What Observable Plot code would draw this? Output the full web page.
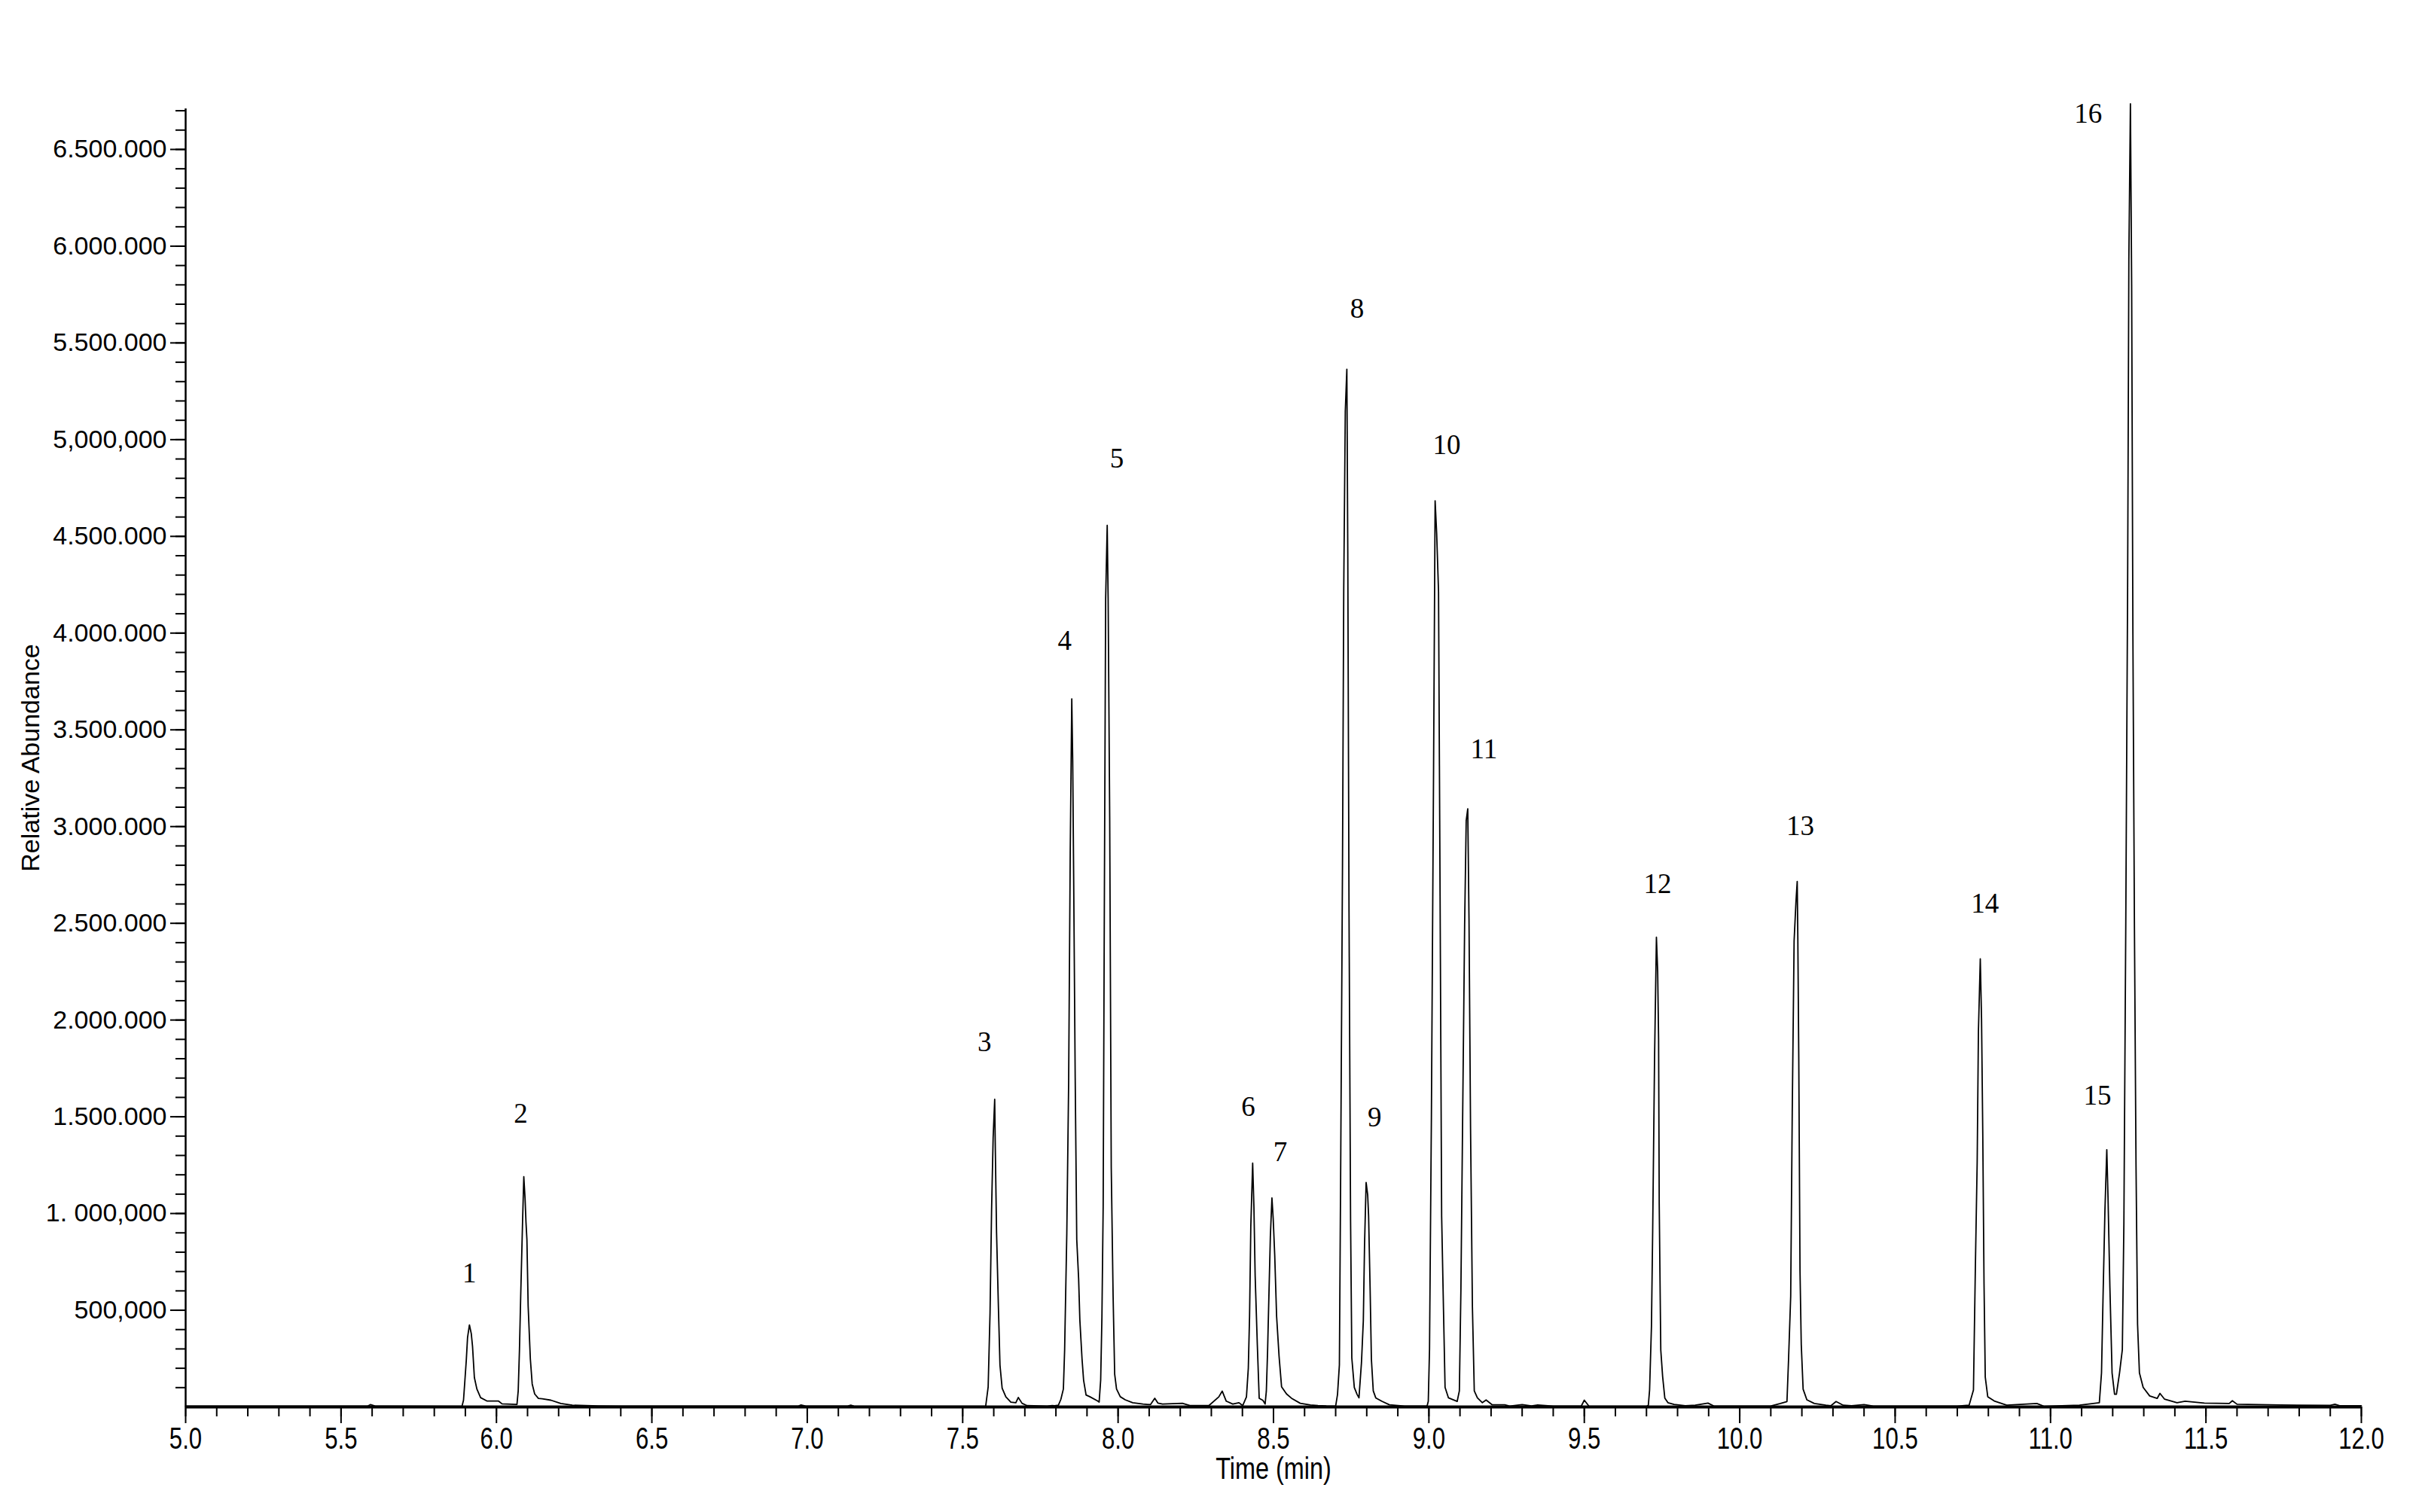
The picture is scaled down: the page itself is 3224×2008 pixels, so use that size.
<!DOCTYPE html>
<html>
<head>
<meta charset="utf-8">
<script src="https://cdn.jsdelivr.net/npm/d3@7"></script>
<script src="https://cdn.jsdelivr.net/npm/@observablehq/plot@0.6"></script>
<style>
  html, body { margin: 0; padding: 0; background: #fff; }
  #chart svg { display: block; }
</style>
</head>
<body>
<div id="chart"></div>
<script>
// ---- Data (time in min, abundance in counts) ----
const baselineStart = [[5.0,4000],[5.3,4000],[5.585,4000],[5.595,12000],[5.61,4000],[5.885,3000]];
const peaks1and2 = [[5.889,3000],[5.894,35000],[5.898,126000],[5.903,243000],[5.907,359000],[5.913,424000],[5.919,379000],[5.923,314000],[5.929,152000],[5.937,93000],[5.949,48000],[5.969,31000],[6.006,31000],[6.018,16000],[6.066,13000],[6.070,83000],[6.074,294000],[6.078,573000],[6.084,956000],[6.088,1190000],[6.092,1079000],[6.095,955000],[6.098,865000],[6.102,521000],[6.109,249000],[6.115,119000],[6.123,67000],[6.135,44000],[6.147,42000],[6.175,35000],[6.207,18000],[6.244,9000],[6.328,5000]];
const baselineMid = [[6.40,4000],[6.97,4000],[6.98,10000],[6.995,4000],[7.13,4000],[7.14,9000],[7.15,4000],[7.57,3000]];
const peak3 = [[7.574,3000],[7.582,104000],[7.588,484000],[7.593,1020000],[7.598,1392000],[7.603,1590000],[7.605,1333000],[7.609,901000],[7.615,514000],[7.620,216000],[7.627,97000],[7.639,52000],[7.655,25000],[7.671,22000],[7.679,49000],[7.691,19000],[7.707,7000],[7.772,4000],[7.788,7000]];
const peaks4and5 = [[7.796,6000],[7.808,9000],[7.816,40000],[7.824,93000],[7.828,294000],[7.835,897000],[7.841,1686000],[7.846,2862000],[7.851,3660000],[7.854,3340000],[7.857,2754000],[7.862,1702000],[7.867,866000],[7.873,665000],[7.877,449000],[7.884,248000],[7.889,139000],[7.897,62000],[7.909,53000],[7.934,31000],[7.939,25000],[7.944,139000],[7.948,464000],[7.952,1036000],[7.956,2676000],[7.960,4177000],[7.965,4557000],[7.968,4177000],[7.973,3048000],[7.978,1238000],[7.984,572000],[7.989,170000],[7.995,93000],[8.007,53000],[8.023,37000],[8.047,22000],[8.080,15000],[8.104,12000],[8.118,45000],[8.128,20000],[8.143,15000]];
const peaks6and7 = [[8.207,19000],[8.231,7000],[8.292,7000],[8.324,52000],[8.335,82000],[8.348,30000],[8.369,15000],[8.389,22000],[8.401,7000],[8.413,52000],[8.419,201000],[8.423,469000],[8.427,931000],[8.433,1260000],[8.437,1035000],[8.441,677000],[8.448,320000],[8.454,45000],[8.466,34000],[8.473,15000],[8.477,82000],[8.481,290000],[8.485,558000],[8.490,886000],[8.495,1080000],[8.499,975000],[8.504,782000],[8.510,469000],[8.518,261000],[8.526,104000],[8.542,67000],[8.558,45000],[8.586,19000],[8.619,10000],[8.643,7000],[8.67,5000]];
const peaks8to11 = [[8.700,4000],[8.706,65000],[8.712,217000],[8.716,1186000],[8.722,2796000],[8.726,4225000],[8.731,5147000],[8.736,5364000],[8.739,4424000],[8.743,2561000],[8.748,962000],[8.752,253000],[8.760,101000],[8.769,65000],[8.775,47000],[8.783,228000],[8.789,445000],[8.793,843000],[8.798,1160000],[8.803,1096000],[8.806,987000],[8.811,600000],[8.815,246000],[8.821,83000],[8.829,47000],[8.849,29000],[8.873,11000],[8.922,4000],[8.994,4000],[8.998,29000],[9.002,300000],[9.008,1494000],[9.015,3291000],[9.020,4684000],[9.025,4514000],[9.031,4214000],[9.036,2640000],[9.041,987000],[9.047,499000],[9.052,101000],[9.063,47000],[9.091,29000],[9.098,83000],[9.103,608000],[9.109,1566000],[9.115,2496000],[9.120,3031000],[9.125,3092000],[9.129,2525000],[9.134,1440000],[9.140,517000],[9.146,83000],[9.156,47000],[9.172,22000],[9.184,36000],[9.204,11000],[9.244,11000],[9.260,4000]];
const baselineLate = [[9.30,12000],[9.33,5000],[9.35,10000],[9.40,4000],[9.49,4000],[9.50,35000],[9.515,4000],[9.70,3000]];
const peaks12and13 = [[9.706,9000],[9.710,87000],[9.716,415000],[9.720,914000],[9.726,1800000],[9.732,2428000],[9.736,2252000],[9.739,1901000],[9.741,1052000],[9.746,295000],[9.752,157000],[9.759,46000],[9.769,22000],[9.789,13000],[9.825,6000],[9.857,9000],[9.898,20000],[9.918,4000],[10.099,4000],[10.131,18000],[10.152,28000],[10.157,240000],[10.164,572000],[10.169,1523000],[10.175,2409000],[10.181,2612000],[10.185,2716000],[10.187,2418000],[10.190,1800000],[10.194,702000],[10.198,323000],[10.204,92000],[10.216,37000],[10.240,18000],[10.277,9000],[10.293,6000],[10.310,28000],[10.333,9000],[10.36,6000],[10.40,12000],[10.43,4000],[10.70,4000]];
const peaks14to16 = [[10.738,9000],[10.752,88000],[10.758,706000],[10.764,1266000],[10.768,1941000],[10.774,2316000],[10.778,2007000],[10.782,1412000],[10.786,640000],[10.790,154000],[10.798,53000],[10.819,31000],[10.859,9000],[10.956,18000],[10.980,3000],[11.093,9000],[11.157,22000],[11.164,176000],[11.169,573000],[11.175,1015000],[11.181,1330000],[11.185,1081000],[11.191,618000],[11.198,176000],[11.206,66000],[11.212,66000],[11.222,176000],[11.231,296000],[11.236,948000],[11.242,2470000],[11.248,4235000],[11.252,5933000],[11.257,6736000],[11.261,5801000],[11.265,3992000],[11.270,2470000],[11.275,1257000],[11.280,428000],[11.286,176000],[11.298,101000],[11.319,57000],[11.343,44000],[11.352,70000],[11.367,40000],[11.407,22000]];
const tailEnd = [[11.433,30000],[11.495,20000],[11.575,18000],[11.585,32000],[11.60,14000],[11.74,10000],[11.90,8000],[11.915,14000],[11.93,6000],[12.0,6000]];

// peak labels
const peakNames  = ["1","2","3","4","5","6","7","8","9","10","11","12","13","14","15","16"];
const peakLabelT = [5.913,6.078,7.570,7.828,7.996,8.419,8.522,8.769,8.825,9.057,9.177,9.736,10.195,10.789,11.151,11.121];
const peakLabelV = [690000,1517000,1884000,3960000,4900000,1549000,1318000,5676000,1494000,4973000,3400000,2704000,3004000,2602000,1610000,6683000];

// axis ticks
const yMajorTicks  = [500000,1000000,1500000,2000000,2500000,3000000,3500000,4000000,4500000,5000000,5500000,6000000,6500000];
const yMajorLabels = ["500,000","1. 000,000","1.500.000","2.000.000","2.500.000","3.000.000","3.500.000","4.000.000","4.500.000","5,000,000","5.500.000","6.000.000","6.500.000"];
const yMinorTicks  = d3.range(1, 68).map(k => k * 100000);
const xMajorTicks  = [5.0,5.5,6.0,6.5,7.0,7.5,8.0,8.5,9.0,9.5,10.0,10.5,11.0,11.5,12.0];
const xMinorTicks  = d3.range(50, 121).map(k => k / 10);
const xTitle = "Time (min)";
const yTitle = "Relative Abundance";

// ---- Build ----
const trace = [].concat(baselineStart, peaks1and2, baselineMid, peak3, peaks4and5, peaks6and7, peaks8to11, baselineLate, peaks12and13, peaks14to16, tailEnd);
const yLabelMap = new Map(yMajorTicks.map((v, i) => [v, yMajorLabels[i]]));
const labels = peakNames.map((n, i) => ({name: n, t: peakLabelT[i], v: peakLabelV[i]}));

const sans = "'Liberation Sans', Arial, sans-serif";
const serif = "'Liberation Serif', 'Times New Roman', serif";

const chart = Plot.plot({
  width: 3224,
  height: 2008,
  marginLeft: 246,
  marginRight: 89,
  marginTop: 144,
  marginBottom: 140,
  x: {domain: [5, 12]},
  y: {domain: [0, 6710000]},
  style: {background: "#fff", color: "#000", fontFamily: sans},
  marks: [
    Plot.axisY(yMinorTicks, {tickSize: 13, strokeWidth: 2, tickFormat: () => "", label: null}),
    Plot.axisY(yMajorTicks, {tickSize: 20, tickPadding: 5, strokeWidth: 2, tickFormat: d => yLabelMap.get(d), fontSize: 34, fontFamily: sans, label: null}),
    Plot.axisX(xMinorTicks, {tickSize: 13, strokeWidth: 2, tickFormat: () => "", label: null}),
    Plot.axisX(xMajorTicks, {tickSize: 22, tickPadding: 4, strokeWidth: 2, tickFormat: d => d.toFixed(1), fontSize: 41, fontFamily: sans, label: null}),
    Plot.ruleX([5], {y1: 0, y2: 6710000, stroke: "#000", strokeWidth: 2.5}),
    Plot.line(trace, {x: d => d[0], y: d => d[1], stroke: "#000", strokeWidth: 1.8, clip: false}),
    Plot.ruleY([0], {stroke: "#000", strokeWidth: 4}),
    Plot.text(labels, {x: "t", y: "v", text: "name", fontFamily: serif, fontSize: 37, fill: "#000", textAnchor: "middle", lineAnchor: "middle"}),
    Plot.text([yTitle], {frameAnchor: "left", dx: -205, rotate: -90, textAnchor: "middle", lineAnchor: "middle", fontSize: 34, fontFamily: sans, fill: "#000"}),
    Plot.text([xTitle], {frameAnchor: "bottom", dy: 83, textAnchor: "middle", fontSize: 40, fontFamily: sans, fill: "#000", lineAnchor: "middle"})
  ]
});
document.getElementById("chart").appendChild(chart);

// condense the x-axis texts (the reference uses a narrow typeface)
const xTickTexts = new Set(xMajorTicks.map(d => d.toFixed(1)));
chart.querySelectorAll("text").forEach(el => {
  const s = el.textContent.trim();
  let k = null;
  if (xTickTexts.has(s)) k = 0.76;
  else if (s === xTitle) k = 0.81;
  if (k === null) return;
  const b = el.getBBox();
  const cx = b.x + b.width / 2;
  const t = el.getAttribute("transform") || "";
  el.setAttribute("transform", `${t} translate(${cx},0) scale(${k},1) translate(${-cx},0)`);
});
</script>
</body>
</html>
